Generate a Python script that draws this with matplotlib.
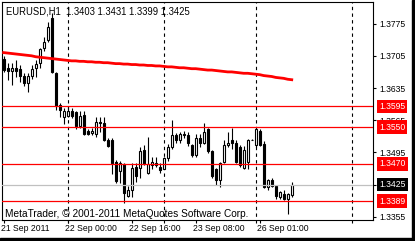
import numpy as np
import matplotlib
matplotlib.use('Agg')
from matplotlib import pyplot as plt
from matplotlib import font_manager as fm
from matplotlib import transforms as mtrans
from matplotlib.patches import Rectangle


# EURUSD H1 bars, bar 0 = 22 Sep 00:00
bar_idx = np.arange(-16, 57)

opens = [1.3699, 1.3679, 1.3673, 1.3679, 1.3677, 1.3662, 1.3646, 1.3662, 1.3679, 1.3690,
         1.3722, 1.3740, 1.3787, 1.3668, 1.3597, 1.3571, 1.3575, 1.3586, 1.3582, 1.3553,
         1.3577, 1.3542, 1.3538, 1.3536, 1.3560, 1.3558, 1.3523, 1.3523, 1.3475, 1.3455,
         1.3469, 1.3400, 1.3414, 1.3464, 1.3462, 1.3501, 1.3451, 1.3467, 1.3473, 1.3464,
         1.3459, 1.3482, 1.3506, 1.3532, 1.3521, 1.3536, 1.3532, 1.3512, 1.3490, 1.3527,
         1.3516, 1.3545, 1.3497, 1.3458, 1.3436, 1.3475, 1.3510, 1.3521, 1.3516, 1.3506,
         1.3462, 1.3475, 1.3523, 1.3510, 1.3542, 1.3514, 1.3419, 1.3436, 1.3423, 1.3399,
         1.3404, 1.3393, 1.3403]
highs = [1.3705, 1.3690, 1.3690, 1.3696, 1.3685, 1.3668, 1.3668, 1.3685, 1.3696, 1.3722,
         1.3745, 1.3779, 1.3798, 1.3670, 1.3603, 1.3592, 1.3595, 1.3592, 1.3586, 1.3584,
         1.3584, 1.3545, 1.3549, 1.3573, 1.3573, 1.3573, 1.3527, 1.3527, 1.3479, 1.3477,
         1.3473, 1.3423, 1.3471, 1.3471, 1.3506, 1.3510, 1.3529, 1.3486, 1.3486, 1.3473,
         1.3484, 1.3514, 1.3566, 1.3538, 1.3540, 1.3542, 1.3540, 1.3514, 1.3534, 1.3536,
         1.3558, 1.3547, 1.3501, 1.3462, 1.3475, 1.3523, 1.3540, 1.3549, 1.3523, 1.3510,
         1.3508, 1.3525, 1.3525, 1.3547, 1.3545, 1.3519, 1.3438, 1.3440, 1.3425, 1.3412,
         1.3414, 1.3406, 1.3431]
lows = [1.3670, 1.3652, 1.3642, 1.3660, 1.3649, 1.3640, 1.3627, 1.3655, 1.3660, 1.3679,
        1.3716, 1.3735, 1.3668, 1.3588, 1.3571, 1.3556, 1.3571, 1.3569, 1.3545, 1.3549,
        1.3532, 1.3532, 1.3532, 1.3529, 1.3540, 1.3519, 1.3506, 1.3449, 1.3429, 1.3429,
        1.3386, 1.3397, 1.3397, 1.3430, 1.3440, 1.3467, 1.3447, 1.3458, 1.3464, 1.3451,
        1.3458, 1.3477, 1.3503, 1.3516, 1.3516, 1.3527, 1.3508, 1.3486, 1.3486, 1.3506,
        1.3514, 1.3493, 1.3440, 1.3425, 1.3419, 1.3473, 1.3506, 1.3503, 1.3473, 1.3464,
        1.3458, 1.3458, 1.3521, 1.3506, 1.3508, 1.3417, 1.3414, 1.3419, 1.3393, 1.3393,
        1.3392, 1.3360, 1.3399]
closes = [1.3675, 1.3673, 1.3679, 1.3673, 1.3662, 1.3646, 1.3662, 1.3677, 1.3688, 1.3720,
          1.3736, 1.3768, 1.3670, 1.3595, 1.3588, 1.3586, 1.3586, 1.3575, 1.3553, 1.3575,
          1.3536, 1.3536, 1.3542, 1.3560, 1.3558, 1.3521, 1.3508, 1.3473, 1.3432, 1.3473,
          1.3406, 1.3414, 1.3462, 1.3443, 1.3497, 1.3469, 1.3469, 1.3475, 1.3467, 1.3456,
          1.3482, 1.3506, 1.3532, 1.3523, 1.3534, 1.3532, 1.3516, 1.3490, 1.3527, 1.3516,
          1.3540, 1.3497, 1.3443, 1.3436, 1.3473, 1.3512, 1.3516, 1.3516, 1.3475, 1.3467,
          1.3501, 1.3523, 1.3523, 1.3545, 1.3512, 1.3419, 1.3436, 1.3421, 1.3401, 1.3408,
          1.3393, 1.3404, 1.3425]

# moving average (red line)
ma_values = [1.3712, 1.3711, 1.3710, 1.3709, 1.3708, 1.3707, 1.3706, 1.3705, 1.3703, 1.3702,
             1.3701, 1.3700, 1.3699, 1.3698, 1.3697, 1.3696, 1.3695, 1.3694, 1.3694, 1.3693,
             1.3693, 1.3692, 1.3692, 1.3691, 1.3691, 1.3690, 1.3690, 1.3689, 1.3688, 1.3688,
             1.3687, 1.3687, 1.3686, 1.3686, 1.3685, 1.3685, 1.3684, 1.3684, 1.3683, 1.3683,
             1.3682, 1.3681, 1.3681, 1.3680, 1.3679, 1.3679, 1.3678, 1.3677, 1.3677, 1.3676,
             1.3675, 1.3674, 1.3674, 1.3673, 1.3672, 1.3671, 1.3670, 1.3670, 1.3669, 1.3668,
             1.3667, 1.3667, 1.3666, 1.3665, 1.3664, 1.3662, 1.3661, 1.3660, 1.3658, 1.3657,
             1.3656, 1.3654, 1.3653]

# horizontal levels and the bid
red_levels = [1.3595, 1.3550, 1.3470, 1.3389]
bid = 1.3425
day_breaks = [0, 24, 47, 71]

price_ticks = [1.3775, 1.3705, 1.3635, 1.3565, 1.3495, 1.3425, 1.3355]
time_ticks = [-16, 0, 16, 32, 48]
time_labels = ['21 Sep 2011', '22 Sep 00:00', '22 Sep 16:00', '23 Sep 08:00', '26 Sep 01:00']

title = 'EURUSD,H1  1.3403 1.3431 1.3399 1.3425'
copyright_txt = 'MetaTrader, \u00a9 2001-2011 MetaQuotes Software Corp.'

# font: narrow face if we have it
names = {f.name for f in fm.fontManager.ttflist}
if 'Liberation Sans Narrow' in names:
    fam = ['Liberation Sans Narrow', 'DejaVu Sans']
    k = 1.0
else:
    fam = ['Liberation Sans', 'DejaVu Sans']
    k = 0.82
plt.rcParams['font.family'] = fam

W, H = 415, 241
fig = plt.figure(figsize=(W / 100, H / 100), dpi=100)
fig.patch.set_facecolor('white')
ax = fig.add_axes([2 / W, 21 / H, 371 / W, 218 / H])
ax.set_facecolor('white')

x = bar_idx
o = np.array(opens)
c = np.array(closes)
up = c >= o

# wicks
ax.vlines(x, lows, highs, color='black', lw=0.8, zorder=2)
# bodies
body_lo = np.minimum(o, c)
body_h = np.abs(c - o)
ax.bar(x[up], body_h[up], bottom=body_lo[up], width=0.55, color='white',
       edgecolor='black', linewidth=0.8, zorder=3)
ax.bar(x[~up], body_h[~up], bottom=body_lo[~up], width=0.55, color='black',
       edgecolor='black', linewidth=0.8, zorder=3)

# day separators (run a little past the bottom edge)
for d in day_breaks:
    ax.plot([d, d], [-0.015, 1], transform=mtrans.blended_transform_factory(ax.transData, ax.transAxes),
            color='black', lw=0.8, ls=(0, (3, 3)), zorder=1, clip_on=False)

# MA
ax.plot(x, ma_values, color='#ff0000', lw=2.0, zorder=5)

# levels
ax.axhline(bid, color='#c0c0c0', lw=0.9, zorder=4)
for lv in red_levels:
    ax.axhline(lv, color='#ff0000', lw=0.9, zorder=4)

ax.set_xlim(-16.4, 76.3)
ax.set_ylim(1.3348, 1.3822)

# price axis on right
ax.yaxis.tick_right()
ax.set_yticks(price_ticks)
ax.set_yticklabels(['%.4f' % p for p in price_ticks])
ax.tick_params(axis='y', length=2.2, width=0.8, pad=2.2, labelsize=7.6 * k, colors='black')

# time axis
ax.set_xticks(time_ticks)
ax.set_xticklabels([])
ax.tick_params(axis='x', length=2.2, width=0.8, direction='out')
tr = mtrans.blended_transform_factory(ax.transData, fig.transFigure)
for t, lab in zip(time_ticks, time_labels):
    ax.text(t - 0.6, (H - 228.5) / H, lab, transform=tr, ha='left', va='center',
            fontsize=7.6 * k, color='black', clip_on=False)

for sp in ax.spines.values():
    sp.set_color('black')
    sp.set_linewidth(0.8)

# price boxes
tr_y = mtrans.blended_transform_factory(fig.transFigure, ax.transData)
for lv in red_levels:
    ax.text(379 / W, lv, '%.4f' % lv, transform=tr_y, ha='left', va='center',
            fontsize=7.6 * k, color='white', zorder=10, clip_on=False,
            bbox=dict(boxstyle='square,pad=0.25', fc='#ff0000', ec='none'))
ax.text(379 / W, bid, '%.4f' % bid, transform=tr_y, ha='left', va='center',
        fontsize=7.6 * k, color='white', zorder=10, clip_on=False,
        bbox=dict(boxstyle='square,pad=0.25', fc='black', ec='none'))

fig.text(6 / W, (H - 11.5) / H, title, ha='left', va='center', fontsize=8.4 * k, color='black')
fig.text(5 / W, (H - 214) / H, copyright_txt, ha='left', va='center', fontsize=8.9 * k,
         color='black')

# window frame
fig.patches.append(Rectangle((0, 0), 1, 3 / H, transform=fig.transFigure,
                             color='black', zorder=20))
fig.patches.append(Rectangle((412 / W, 0), 3 / W, 1, transform=fig.transFigure,
                             color='black', zorder=20))

fig.savefig('out.png', dpi=100)
